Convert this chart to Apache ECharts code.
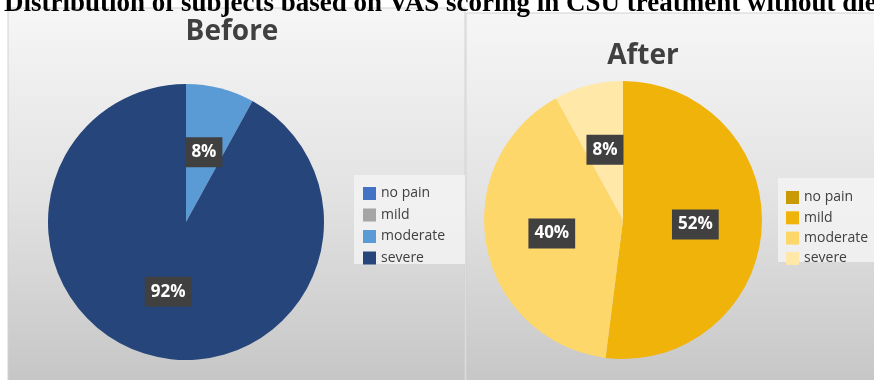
<!DOCTYPE html>
<html>
<head>
<meta charset="utf-8">
<script src="https://cdn.jsdelivr.net/npm/echarts@6/dist/echarts.min.js"></script>
<style>
  html, body { margin: 0; padding: 0; background: #ffffff; }
  #chart { width: 874px; height: 380px; }
</style>
</head>
<body>
<div id="chart"></div>
<script>
// VAS pain categories and share of subjects in each (percent)
const categories = ['no pain', 'mild', 'moderate', 'severe'];
const beforeValues = [0, 0, 8, 92];
const afterValues = [0, 52, 40, 8];

// Slice palettes for the two panels
const beforeColors = ['#4472C4', '#A5A5A5', '#5B9BD5', '#26457A'];
const afterColors = ['#C99A06', '#F0B30A', '#FED76A', '#FFE8A8'];

const mainTitle = 'Distribution of subjects based on VAS scoring in CSU treatment without diet';
const panelTitles = ['Before', 'After'];

function pieData(values, colors) {
  return categories.map((name, i) => ({
    name: name,
    value: values[i],
    itemStyle: { color: colors[i] },
    label: { show: values[i] > 0 }
  }));
}

function legendData(colors) {
  return categories.map((name, i) => ({ name: name, itemStyle: { color: colors[i] } }));
}

const panelFill = {
  type: 'linear', x: 0, y: 0, x2: 0, y2: 1,
  colorStops: [
    { offset: 0, color: '#f6f6f6' },
    { offset: 0.5, color: '#e2e2e2' },
    { offset: 1, color: '#c5c5c5' }
  ]
};

const sliceLabel = {
  position: 'inside',
  formatter: '{d}%',
  color: '#ffffff',
  fontFamily: 'Open Sans',
  fontWeight: 'bold',
  fontSize: 17,
  backgroundColor: '#404040',
  padding: [7, 6, 6, 6]
};

const legendText = { fontFamily: 'Open Sans', fontSize: 14, color: '#404040', lineHeight: 15 };

const chart = echarts.init(document.getElementById('chart'), null, { renderer: 'canvas' });

chart.setOption({
  animation: false,
  backgroundColor: '#ffffff',
  graphic: [
    // panel backgrounds
    { type: 'rect', shape: { x: 8, y: 8, width: 457, height: 380 },
      style: { fill: panelFill, stroke: '#d2d2d2', lineWidth: 1 }, z: 0 },
    { type: 'rect', shape: { x: 466, y: 13, width: 412, height: 380 },
      style: { fill: panelFill, stroke: '#d2d2d2', lineWidth: 1 }, z: 0 },
    // legend backdrops
    { type: 'rect', shape: { x: 354, y: 175, width: 111, height: 89 },
      style: { fill: 'rgba(245,245,245,0.75)' }, z: 1 },
    { type: 'rect', shape: { x: 778, y: 178, width: 96, height: 84 },
      style: { fill: 'rgba(245,245,245,0.75)' }, z: 1 },
    // panel titles
    { type: 'text', x: 232, y: 32, z: 3,
      style: { text: panelTitles[0], fill: '#404040', font: 'bold 28px "Open Sans"',
               textAlign: 'center', textVerticalAlign: 'middle' } },
    { type: 'text', x: 643, y: 56, z: 3,
      style: { text: panelTitles[1], fill: '#404040', font: 'bold 28px "Open Sans"',
               textAlign: 'center', textVerticalAlign: 'middle' } },
    // heading above the panels, partly running off the top edge
    { type: 'text', x: 4, y: -9, z: 3,
      style: { text: mainTitle, fill: '#000000', font: 'bold 27px "Liberation Serif"',
               textAlign: 'left', textVerticalAlign: 'top' } }
  ],
  legend: [
    {
      orient: 'vertical', left: 358, top: 181,
      itemWidth: 13, itemHeight: 13, itemGap: 6.5,
      icon: 'rect', selectedMode: false,
      textStyle: legendText,
      data: legendData(beforeColors)
    },
    {
      orient: 'vertical', left: 781, top: 185,
      itemWidth: 13, itemHeight: 13, itemGap: 5.3,
      icon: 'rect', selectedMode: false,
      textStyle: legendText,
      data: legendData(afterColors)
    }
  ],
  series: [
    {
      type: 'pie',
      name: panelTitles[0],
      center: [186, 222],
      radius: [0, 138],
      startAngle: 90,
      clockwise: true,
      avoidLabelOverlap: false,
      label: sliceLabel,
      labelLine: { show: false },
      emphasis: { disabled: true },
      itemStyle: { borderWidth: 0 },
      data: pieData(beforeValues, beforeColors)
    },
    {
      type: 'pie',
      name: panelTitles[1],
      center: [623, 220],
      radius: [0, 139],
      startAngle: 90,
      clockwise: true,
      avoidLabelOverlap: false,
      label: sliceLabel,
      labelLine: { show: false },
      emphasis: { disabled: true },
      itemStyle: { borderWidth: 0 },
      data: pieData(afterValues, afterColors)
    }
  ]
});
</script>
</body>
</html>
